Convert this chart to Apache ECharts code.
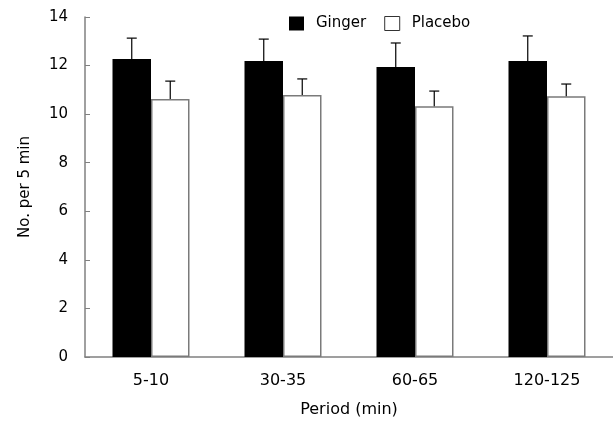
<!DOCTYPE html>
<html><head><meta charset="utf-8">
<script src="https://cdn.jsdelivr.net/npm/echarts@6/dist/echarts.min.js"></script>
<style>html,body{margin:0;padding:0;background:#fff}#c{width:613px;height:423px}</style>
</head><body><div id="c"></div>
<script>
var categories = ['5-10', '30-35', '60-65', '120-125'];
var gingerMean = [12.27, 12.19, 11.94, 12.19];
var gingerErr  = [0.86, 0.90, 0.99, 1.03];
var placeboMean = [10.62, 10.79, 10.33, 10.74];
var placeboErr  = [0.74, 0.66, 0.62, 0.50];
var yTicks = [0, 2, 4, 6, 8, 10, 12, 14];

var FONT = 'DejaVu Sans';
function errData(means, errs) {
  return means.map(function (m, i) { return [i, m, m + errs[i]]; });
}
function errSeries(name, means, errs, offset) {
  return {
    type: 'custom', name: name + ' err', silent: true, z: 5,
    data: errData(means, errs),
    renderItem: function (params, api) {
      var x = api.value(0);
      var lo = api.coord([x, api.value(1)]);
      var hi = api.coord([x, api.value(2)]);
      var cx = lo[0] + offset;
      var hw = 5;
      var st = { stroke: '#000', lineWidth: 1.2 };
      return { type: 'group', children: [
        { type: 'line', shape: { x1: cx, y1: lo[1], x2: cx, y2: hi[1] }, style: st },
        { type: 'line', shape: { x1: cx - hw, y1: hi[1], x2: cx + hw, y2: hi[1] }, style: st }
      ]};
    }
  };
}
var chart = echarts.init(document.getElementById('c'));
chart.setOption({
  animation: false,
  textStyle: { fontFamily: FONT },
  legend: {
    left: 284, top: 11, itemWidth: 15, itemHeight: 14, itemGap: 18,
    data: [
      { name: 'Ginger', icon: 'rect', itemStyle: { color: '#000', borderWidth: 0 } },
      { name: 'Placebo', icon: 'rect', itemStyle: { color: '#fff', borderColor: '#333', borderWidth: 1 } }
    ],
    textStyle: { fontFamily: FONT, fontSize: 15, color: '#000', padding: [0, 0, 0, 7] }
  },
  grid: { left: 85, right: 0, top: 17, bottom: 66, containLabel: false },
  xAxis: {
    type: 'category', data: categories,
    name: 'Period (min)', nameLocation: 'middle', nameGap: 45,
    nameTextStyle: { fontFamily: FONT, fontSize: 16, color: '#000' },
    axisLine: { lineStyle: { color: '#808080', width: 1.5 } },
    axisTick: { show: false },
    axisLabel: { fontFamily: FONT, fontSize: 16, color: '#000', margin: 16 }
  },
  yAxis: {
    type: 'value', min: yTicks[0], max: yTicks[yTicks.length - 1], interval: 2,
    name: 'No. per 5 min', nameLocation: 'middle', nameGap: 52,
    nameTextStyle: { fontFamily: FONT, fontSize: 15, color: '#000' },
    splitLine: { show: false },
    axisLine: { show: true, lineStyle: { color: '#808080', width: 1.5 } },
    axisTick: { show: true, inside: true, length: 5, lineStyle: { color: '#808080' } },
    axisLabel: { fontFamily: FONT, fontSize: 15, color: '#000', margin: 17 }
  },
  series: [
    { type: 'bar', name: 'Ginger', data: gingerMean, barWidth: 38.5, barGap: '0%',
      itemStyle: { color: '#000', borderColor: '#000', borderWidth: 0 } },
    { type: 'bar', name: 'Placebo', data: placeboMean, barWidth: 38.5, barGap: '0%',
      itemStyle: { color: '#fff', borderColor: '#7a7a7a', borderWidth: 1.5 } },
    errSeries('Ginger', gingerMean, gingerErr, -19.25),
    errSeries('Placebo', placeboMean, placeboErr, 19.25)
  ]
});
</script></body></html>
